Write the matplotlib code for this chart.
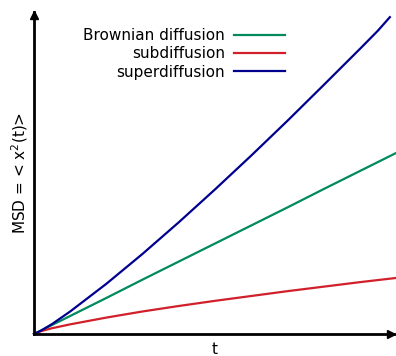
import matplotlib
matplotlib.use("Agg")
import matplotlib.pyplot as plt

# values (axes scaled 0..1)
t_vals = [0.0, 0.02, 0.05, 0.1, 0.2, 0.3, 0.4, 0.5, 0.6, 0.7, 0.8, 0.9, 1.0]
t_super = [0.0, 0.02, 0.05, 0.1, 0.2, 0.3, 0.4, 0.5, 0.6, 0.7, 0.8, 0.85, 0.9, 0.95, 0.983]
msd_brownian = [0.0, 0.011, 0.028, 0.056, 0.112, 0.169, 0.225, 0.281, 0.337, 0.393, 0.450, 0.506, 0.562]
msd_sub = [0.0, 0.009, 0.018, 0.030, 0.051, 0.070, 0.087, 0.103, 0.118, 0.133, 0.147, 0.161, 0.174]
msd_super = [0.0, 0.011, 0.031, 0.070, 0.156, 0.249, 0.347, 0.449, 0.554, 0.662, 0.773, 0.829, 0.885, 0.942, 0.984]

labels = ['Brownian diffusion', 'subdiffusion', 'superdiffusion']
colors = ['#008a5e', '#d1202a', '#00008f']

W, H = 396, 356
fig = plt.figure(figsize=(W / 100, H / 100), dpi=100)
ax = fig.add_axes([34 / W, (H - 334) / H, (W - 34) / W, (334 - 12) / H])

ax.plot(t_vals, msd_brownian, color=colors[0], lw=1.6, label=labels[0], clip_on=False)
ax.plot(t_vals, msd_sub, color=colors[1], lw=1.6, label=labels[1], clip_on=False)
ax.plot(t_super, msd_super, color=colors[2], lw=1.6, label=labels[2], clip_on=False)

ax.set_xlim(0, 1)
ax.set_ylim(0, 1)
for s in ['top', 'right']:
    ax.spines[s].set_visible(False)
for s in ['left', 'bottom']:
    ax.spines[s].set_linewidth(2)
ax.set_xticks([])
ax.set_yticks([])

# arrow heads
ax.plot(0.985, 0, '>', color='k', ms=6, transform=ax.transAxes, clip_on=False)
ax.plot(0, 0.99, '^', color='k', ms=6, transform=ax.transAxes, clip_on=False)

ax.set_xlabel('t', fontsize=11, labelpad=6)
ax.set_ylabel('MSD = < x$^2$(t)>', fontsize=11, labelpad=3)

ax.legend(loc='upper left', bbox_to_anchor=(0.098, 0.993), frameon=False,
          markerfirst=False, fontsize=11, handlelength=3.3,
          handletextpad=0.6, labelspacing=0.22)

fig.savefig('out.png', dpi=100)
